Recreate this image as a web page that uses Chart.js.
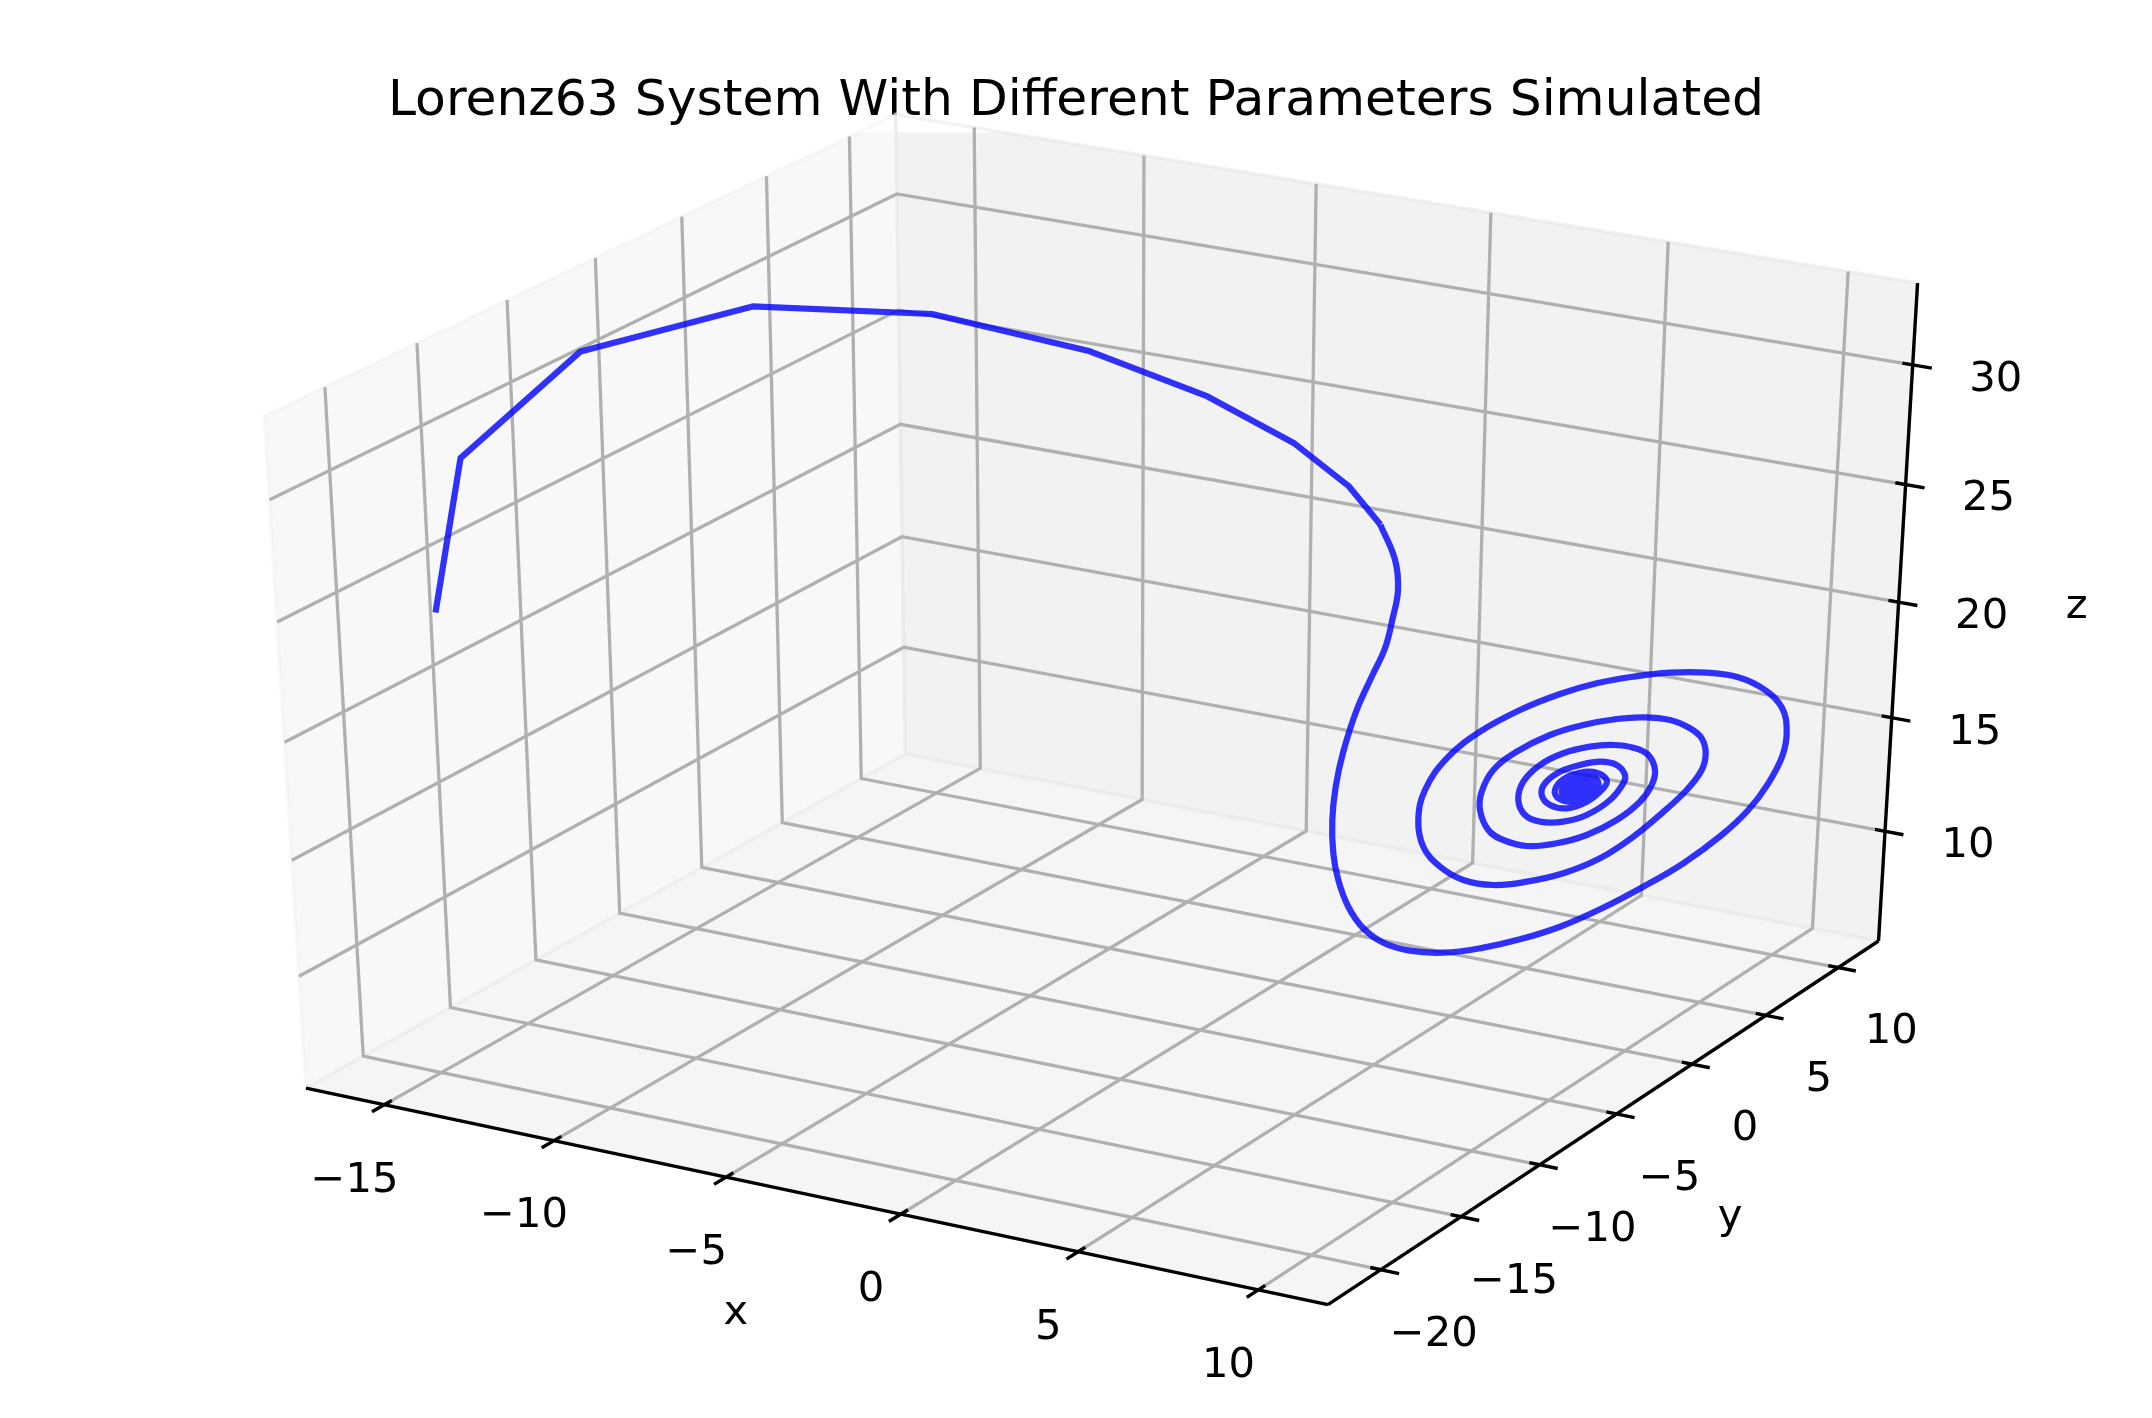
<!DOCTYPE html>
<html>
<head>
<meta charset="utf-8">
<title>Lorenz63</title>
<script src="https://cdn.jsdelivr.net/npm/chart.js@4/dist/chart.umd.min.js"></script>
<style>
  html, body { margin: 0; padding: 0; background: #fff; }
  canvas { display: block; }
</style>
</head>
<body>
<canvas id="lorenzChart" width="2152" height="1418"></canvas>
<script>
// tick values and axis limits
const xTicks = [-15, -10, -5, 0, 5, 10];
const yTicks = [-20, -15, -10, -5, 0, 5, 10];
const zTicks = [10, 15, 20, 25, 30];
const xLimits = [-17.34, 11.91];
const yLimits = [-23.23, 12.83];
const zLimits = [5.09, 33.37];

// trajectory, only the projected view is visible
const trajX = [435.5, 460.5, 580.6, 752.5, 932, 1087.9, 1207.5, 1294.6, 1349, 1380.3, 1395, 1398, 1392.5,
  1385, 1371.7, 1356.7, 1343.3, 1335.7, 1332.3, 1333.3, 1338.3, 1348.3, 1363.3, 1383.3, 1410, 1443.3,
  1480, 1520, 1560, 1600, 1643.3, 1683.3, 1721.7, 1748.3, 1768.3, 1782.7, 1786.7, 1781.7, 1765, 1738.3,
  1706.7, 1670, 1633.3, 1596.7, 1560, 1520, 1480, 1446.7, 1425, 1418.3, 1423.3, 1440, 1463.3, 1493.3,
  1526.7, 1563.3, 1600, 1633.3, 1661.7, 1686.7, 1701.7, 1705.7, 1701.7, 1690, 1670, 1643.3, 1616.7,
  1583.3, 1550, 1516.7, 1493.3, 1481.7, 1480, 1488.3, 1503.3, 1526.7, 1556.7, 1586.7, 1616.7, 1640,
  1651.7, 1655, 1648.3, 1633.3, 1613.3, 1590, 1563.3, 1540, 1523.3, 1518.3, 1525, 1540, 1563.3, 1586.7,
  1610, 1623.3, 1625, 1616.7, 1600, 1580, 1560, 1545, 1541.7, 1550, 1566.7, 1586.7, 1603.3, 1606.7,
  1596.7, 1580, 1563.3, 1555, 1558.3, 1571.7, 1586.7, 1598.3, 1595, 1580, 1566.7, 1561.7, 1570, 1583.3,
  1593.3, 1586.7, 1575, 1566.7, 1571.7, 1583.3, 1590, 1578.3, 1570, 1580, 1586.7, 1576.7, 1575, 1583.3,
  1576.7];
const trajY = [612.5, 458.2, 351.4, 306.4, 314, 350.7, 396.4, 443.6, 486.4, 524.6, 559.6, 590, 619,
  648.3, 676.7, 710, 751.7, 786.7, 820, 853.3, 880, 906.7, 928.3, 942.7, 950.7, 952.7,
  948.3, 939.3, 926.7, 909.3, 886.7, 863.3, 835, 810, 783.3, 755, 730, 707.3, 690, 677.3,
  672.7, 672.7, 676.7, 683.3, 694, 710, 731.7, 758.3, 790, 820, 846.7, 866.7, 880, 885,
  881.7, 873.3, 858.3, 836.7, 813.3, 790, 770, 753.3, 738.3, 728.3, 720, 717.3, 719,
  725, 735, 751.7, 770, 791.7, 810, 830, 840, 846, 843.3, 835, 820, 801.7,
  785, 770, 755, 747.7, 745, 746.7, 753.3, 765, 781.7, 800, 815, 821.7, 821.7, 815,
  800, 783.3, 775, 765, 761.7, 765, 771.7, 783.3, 795, 805, 808.3, 801.7, 788.3, 780,
  772.7, 772.7, 779.3, 790, 798.3, 801.7, 796.7, 786.7, 778.3, 776.7, 783.3, 792.7, 796.7, 793.3,
  785, 780, 781.7, 788.3, 795, 790, 783.3, 782.7, 790, 791.7, 785, 785, 790, 786.7,
  788.3];

const titleText = "Lorenz63 System With Different Parameters Simulated";
const fontName = "'DejaVu Sans', sans-serif";

// matplotlib style camera, elev 30 azim -60 dist 10, box scaled to unit cube
const camU = [0.866, 0.5, 0];
const camV = [-0.25, 0.433, 0.866];
const camN = [0.433, -0.75, 0.5];

function dot(a, b) {
  return a[0] * b[0] + a[1] * b[1] + a[2] * b[2];
}

function project(x, y, z) {
  const q = [
    (x - xLimits[0]) / (xLimits[1] - xLimits[0]) - 0.5,
    (y - yLimits[0]) / (yLimits[1] - yLimits[0]) - 0.5,
    (z - zLimits[0]) / (zLimits[1] - zLimits[0]) - 0.5
  ];
  const w = 10 - dot(camN, q);
  return { x: 11797 * dot(camU, q) / w + 1104.4, y: 689.2 - 7674 * dot(camV, q) / w };
}

function line3d(points, color, width) {
  return {
    type: "line",
    data: points.map(p => project(p[0], p[1], p[2])),
    borderColor: color,
    borderWidth: width,
    pointRadius: 0,
    tension: 0,
    clip: false
  };
}

function pane(points, color) {
  const ds = line3d(points.concat([points[0]]), color, 3.5);
  ds.fill = "shape";
  ds.backgroundColor = color;
  return ds;
}

// first stretch is visibly straight pieces, the spiral is sampled finer in the original
function trajPart(from, to, tension) {
  return {
    type: "line",
    data: trajX.slice(from, to).map((v, i) => ({ x: v, y: trajY[from + i] })),
    borderColor: "rgba(0,0,255,0.8)",
    borderWidth: 6.25,
    borderJoinStyle: "round",
    tension: tension,
    pointRadius: 0,
    clip: false
  };
}

const [x0, x1] = xLimits;
const [y0, y1] = yLimits;
const [z0, z1] = zLimits;
const gridColor = "#b0b0b0";
const gridWidth = 3.3;
const axisWidth = 3.4;

const datasets = [];

// panes
datasets.push(pane([[x0, y0, z0], [x0, y1, z0], [x0, y1, z1], [x0, y0, z1]], "rgba(242,242,242,0.5)"));
datasets.push(pane([[x0, y1, z0], [x1, y1, z0], [x1, y1, z1], [x0, y1, z1]], "rgba(230,230,230,0.5)"));
datasets.push(pane([[x0, y0, z0], [x1, y0, z0], [x1, y1, z0], [x0, y1, z0]], "rgba(236,236,236,0.5)"));

// grid
xTicks.forEach(t => datasets.push(line3d([[t, y0, z0], [t, y1, z0], [t, y1, z1]], gridColor, gridWidth)));
yTicks.forEach(t => datasets.push(line3d([[x1, t, z0], [x0, t, z0], [x0, t, z1]], gridColor, gridWidth)));
zTicks.forEach(t => datasets.push(line3d([[x0, y0, t], [x0, y1, t], [x1, y1, t]], gridColor, gridWidth)));

// axis lines and tick marks
datasets.push(line3d([[x0, y0, z0], [x1, y0, z0]], "#000", axisWidth));
datasets.push(line3d([[x1, y0, z0], [x1, y1, z0]], "#000", axisWidth));
datasets.push(line3d([[x1, y1, z0], [x1, y1, z1]], "#000", axisWidth));

const xSpan = x1 - x0;
const ySpan = y1 - y0;
xTicks.forEach(t => datasets.push(line3d([[t, y0 + 0.0115 * ySpan, z0], [t, y0 - 0.0195 * ySpan, z0]], "#000", axisWidth)));
yTicks.forEach(t => datasets.push(line3d([[x1 - 0.0098 * xSpan, t, z0], [x1 + 0.0173 * xSpan, t, z0]], "#000", axisWidth)));
zTicks.forEach(t => datasets.push(line3d([[x1 - 0.0098 * xSpan, y1, t], [x1 + 0.018 * xSpan, y1, t]], "#000", axisWidth)));

// the trajectory itself
datasets.push(trajPart(0, 10, 0));
datasets.push(trajPart(9, trajX.length, 0.4));

// Chart.js paints the first dataset last, so flip it to get the panes underneath
datasets.reverse();

function tickText(v) {
  return String(v).replace("-", "\u2212");
}

// tick labels and axis names, placed from the projected ticks
const axisText = {
  id: "axisText",
  afterDraw(chart) {
    const c = chart.ctx;
    const sx = chart.scales.x;
    const sy = chart.scales.y;
    const put = (txt, p, dx, dy) => c.fillText(txt, sx.getPixelForValue(p.x) + dx, sy.getPixelForValue(p.y) + dy);
    c.save();
    c.fillStyle = "#000";
    c.font = "41.7px " + fontName;
    c.textAlign = "center";
    c.textBaseline = "middle";
    xTicks.forEach(t => put(tickText(t), project(t, y0, z0), -30, 76));
    yTicks.forEach(t => put(tickText(t), project(x1, t, z0), 53, 65));
    zTicks.forEach(t => put(tickText(t), project(x1, y1, t), 83, 15));
    put("x", project(-4, y0, z0), -25, 129);
    put("y", project(x1, -11, z0), 206, 42);
    put("z", project(x1, y1, 20), 178, 5);
    c.restore();
  }
};

new Chart(document.getElementById("lorenzChart"), {
  type: "line",
  data: { datasets: datasets },
  plugins: [axisText],
  options: {
    responsive: false,
    animation: false,
    layout: { padding: 0 },
    plugins: {
      legend: { display: false },
      tooltip: { enabled: false },
      title: {
        display: true,
        text: titleText,
        color: "#000",
        font: { family: fontName, size: 50.35, weight: "normal", lineHeight: 1.2 },
        padding: { top: 72, bottom: 0 }
      }
    },
    scales: {
      x: { type: "linear", display: false, min: 0, max: 2152 },
      // the title takes its height off the top, so the scale starts there too
      y: { type: "linear", display: false, reverse: true, min: 132.42, max: 1418 }
    }
  }
});
</script>
</body>
</html>
